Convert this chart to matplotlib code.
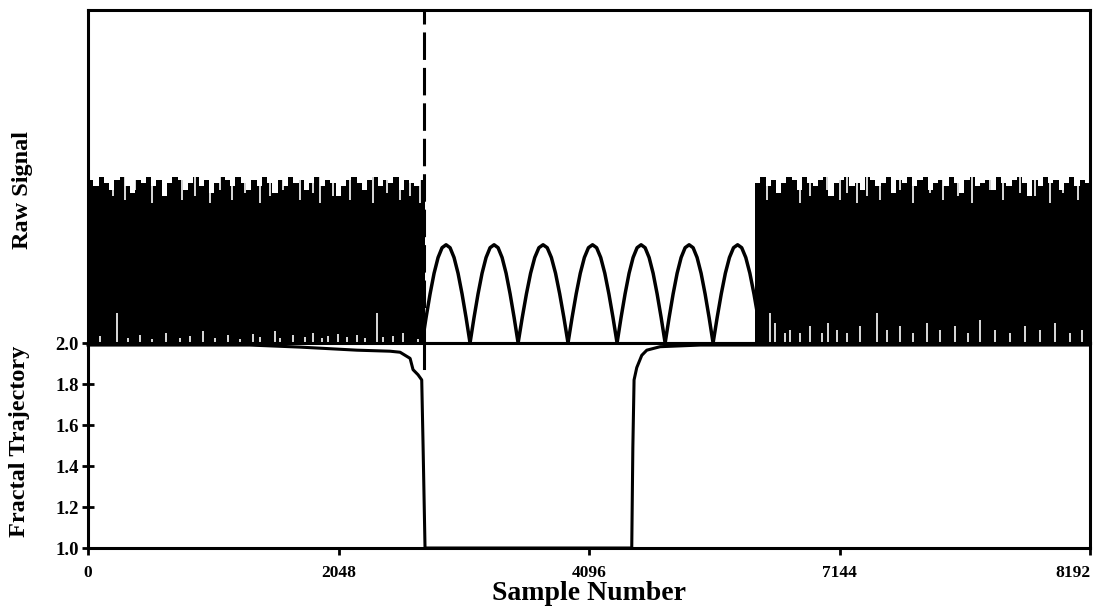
import matplotlib
matplotlib.use("Agg")
import matplotlib.pyplot as plt
import numpy as np

plt.rcParams['font.family'] = ['Liberation Serif', 'DejaVu Serif']
plt.rcParams['font.weight'] = 'bold'

# x axis
x_max = 8192
tick_pos = [0, 2048, 4096, 6144, 8192]
tick_labels = ['0', '2048', '4096', '7144', '8192']

# raw signal, noise blocks given as a stepped upper envelope
noise1_start, noise1_end = 0, 2755
noise1_top = [0.49, 0.47, 0.50, 0.48, 0.46, 0.49, 0.50, 0.47, 0.45, 0.49, 0.48, 0.50, 0.47, 0.49, 0.44, 0.48,
              0.50, 0.49, 0.46, 0.48, 0.50, 0.47, 0.49, 0.45, 0.48, 0.50, 0.49, 0.47, 0.50, 0.48, 0.46, 0.49,
              0.47, 0.50, 0.48, 0.45, 0.49, 0.47, 0.50, 0.48, 0.49, 0.46, 0.48, 0.50, 0.47, 0.49, 0.48, 0.44,
              0.47, 0.49, 0.50, 0.48, 0.46, 0.49, 0.50, 0.47, 0.49, 0.48, 0.50, 0.46, 0.49, 0.48, 0.47, 0.49]
noise2_start, noise2_end = 5453, 8192
noise2_top = [0.48, 0.50, 0.47, 0.49, 0.45, 0.48, 0.50, 0.49, 0.46, 0.50, 0.48, 0.47, 0.49, 0.50, 0.44, 0.48,
              0.49, 0.50, 0.47, 0.48, 0.46, 0.50, 0.49, 0.47, 0.48, 0.50, 0.45, 0.49, 0.48, 0.50, 0.47, 0.49,
              0.50, 0.46, 0.48, 0.49, 0.47, 0.50, 0.48, 0.45, 0.49, 0.50, 0.47, 0.48, 0.49, 0.46, 0.50, 0.48,
              0.47, 0.49, 0.50, 0.48, 0.44, 0.49, 0.47, 0.50, 0.48, 0.49, 0.46, 0.48, 0.50, 0.47, 0.49, 0.48]

# thin white slivers cutting down from the top of the noise
sliver_x = [204, 303, 384, 523, 629, 768, 875, 998, 1079, 1177, 1284, 1406, 1488, 1594, 1733, 1840, 1897,
            2003, 2142, 2248, 2330, 2445, 2551, 2633, 2714,
            5551, 5658, 5821, 5903, 6042, 6148, 6206, 6287, 6369, 6475, 6639, 6745, 6884, 6990, 7113, 7228,
            7375, 7481, 7620, 7743, 7865, 7972, 8094]
sliver_low = [0.44, 0.43, 0.46, 0.42, 0.45, 0.43, 0.44, 0.42, 0.46, 0.43, 0.45, 0.42, 0.44, 0.46, 0.43, 0.45,
              0.42, 0.44, 0.43, 0.46, 0.42, 0.45, 0.43, 0.44, 0.42,
              0.43, 0.45, 0.42, 0.44, 0.46, 0.43, 0.45, 0.42, 0.44, 0.43, 0.46, 0.42, 0.45, 0.43, 0.44, 0.42,
              0.46, 0.43, 0.45, 0.44, 0.42, 0.45, 0.43]

# white gaps along the bottom of the noise
notch_x = [98, 237, 327, 425, 523, 638, 752, 834, 940, 1038, 1145, 1243, 1349, 1406, 1529, 1570, 1676, 1774,
           1840, 1913, 1962, 2044, 2118, 2199, 2265, 2363, 2412, 2494, 2575, 2698,
           5576, 5617, 5699, 5740, 5821, 5903, 6001, 6050, 6124, 6206, 6312, 6451, 6533, 6639, 6745, 6860,
           6966, 7089, 7195, 7293, 7416, 7538, 7661, 7784, 7906, 8029, 8127]
notch_h = [0.02, 0.09, 0.015, 0.025, 0.012, 0.03, 0.015, 0.02, 0.035, 0.015, 0.025, 0.012, 0.027, 0.018, 0.035,
           0.015, 0.025, 0.018, 0.03, 0.015, 0.02, 0.027, 0.018, 0.025, 0.015, 0.09, 0.018, 0.02, 0.03, 0.012,
           0.09, 0.06, 0.03, 0.04, 0.03, 0.05, 0.03, 0.06, 0.04, 0.03, 0.05, 0.09, 0.04, 0.05, 0.03, 0.06,
           0.04, 0.05, 0.03, 0.07, 0.04, 0.03, 0.05, 0.04, 0.06, 0.03, 0.04]

# sinusoidal section: bump edges and one bump profile (fraction of bump width, fraction of peak)
bump_edges = [2731, 3123, 3516, 3924, 4325, 4718, 5110, 5511]
bump_peak = 0.295
profile_pos = [0, 1/12, 2/12, 3/12, 4/12, 5/12, 6/12, 7/12, 8/12, 9/12, 10/12, 11/12, 1]
profile_val = [0, 0.26, 0.5, 0.71, 0.87, 0.97, 1.0, 0.97, 0.87, 0.71, 0.5, 0.26, 0]

event_x = 2747

# fractal trajectory
frac_x = [0, 1325, 1733, 2199, 2469, 2551, 2633, 2657, 2698, 2728, 2739, 2755,
          4445, 4454, 4464, 4486, 4527, 4568, 4677, 5004, 8192]
frac_y = [1.99, 1.99, 1.98, 1.965, 1.96, 1.955, 1.925, 1.87, 1.845, 1.82, 1.5, 1.0,
          1.0, 1.49, 1.82, 1.88, 1.94, 1.965, 1.982, 1.99, 1.99]

fig = plt.figure(figsize=(10.95, 6.1), dpi=100)
ax1 = fig.add_axes([0.0804, 0.4377, 0.9151, 0.5459])
ax2 = fig.add_axes([0.0804, 0.1016, 0.9151, 0.3361])

lw = 2.2

# noise blocks
for start, end, top in [(noise1_start, noise1_end, noise1_top), (noise2_start, noise2_end, noise2_top)]:
    xs = np.linspace(start, end, len(top) + 1)
    ys = list(top) + [top[-1]]
    ax1.fill_between(xs, 0, ys, step='post', color='black', linewidth=0)
ax1.vlines(sliver_x, sliver_low, 0.52, colors='white', linewidth=1.2, zorder=3)
ax1.vlines(notch_x, 0, notch_h, colors='white', linewidth=1.2, zorder=3)

# sine bumps
sx, sy = [], []
for i in range(len(bump_edges) - 1):
    a, b = bump_edges[i], bump_edges[i + 1]
    for p, v in zip(profile_pos, profile_val):
        sx.append(a + p * (b - a))
        sy.append(v * bump_peak)
ax1.plot(sx, sy, color='black', linewidth=lw + 0.3, solid_joinstyle='round')

ax1.plot([event_x, event_x], [0, 1], color='black', linewidth=lw, dashes=(9, 2.6))
ax1.set_xlim(0, x_max)
ax1.set_ylim(0, 1)
ax1.set_xticks([])
ax1.set_yticks([])

ax2.plot(frac_x, frac_y, color='black', linewidth=lw, clip_on=False, zorder=3)
ax2.plot([event_x, event_x], [1.878, 2.0], color='black', linewidth=lw)
ax2.set_xlim(0, x_max)
ax2.set_ylim(1.0, 2.0)
ax2.set_xticks(tick_pos)
ax2.set_xticklabels(tick_labels)
ax2.get_xticklabels()[-1].set_horizontalalignment('right')
ax2.set_yticks([1.0, 1.2, 1.4, 1.6, 1.8, 2.0])
ax2.set_yticklabels(['1.0', '1.2', '1.4', '1.6', '1.8', '2.0'])
ax2.tick_params(axis='x', direction='out', length=5, width=2, pad=7, labelsize=12.5)
ax2.tick_params(axis='y', direction='inout', length=9, width=2, pad=2, labelsize=13.5)

for ax in (ax1, ax2):
    for s in ax.spines.values():
        s.set_linewidth(lw)

ax2.set_xlabel('Sample Number', fontsize=20, fontweight='bold', labelpad=0)
fig.text(0.021, 0.6885, 'Raw Signal', rotation=90, ha='center', va='center', fontsize=17.5, fontweight='bold')
fig.text(0.018, 0.277, 'Fractal Trajectory', rotation=90, ha='center', va='center', fontsize=17.5, fontweight='bold')

fig.savefig('out.png', dpi=100)
